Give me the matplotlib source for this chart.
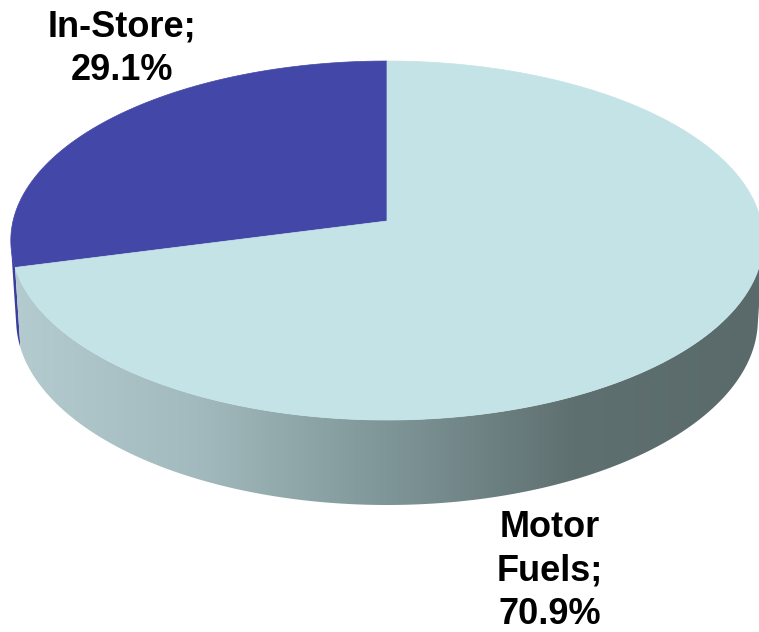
import numpy as np
import matplotlib
matplotlib.use("Agg")
import matplotlib.pyplot as plt
from matplotlib.patches import Polygon
from matplotlib.colors import LinearSegmentedColormap

# ---- data ----
categories = ["In-Store", "Motor Fuels"]
values = [29.1, 70.9]
top_colors = ["#4347a8", "#c4e3e6"]

# ---- figure in pixel coordinates ----
W, H = 759, 632
fig = plt.figure(figsize=(W / 100, H / 100), dpi=100)
ax = fig.add_axes([0, 0, 1, 1])
ax.set_xlim(0, W)
ax.set_ylim(H, 0)
ax.axis("off")

# perspective camera
cx, cy = 387.0, 221.0
sphi, cphi = 0.4743, 0.8804
Dist = 8.097
focal = 3028.0
depth_h = 0.2423


def proj(t_deg, z=0.0, r=1.0):
    t = np.radians(t_deg)
    X = r * np.cos(t)
    Y = r * np.sin(t)
    d = Dist + Y * cphi - z * sphi
    x = focal * X / d
    yu = focal * (Y * sphi + z * cphi) / d
    return np.column_stack([cx + x, cy - yu])


total = sum(values)
start = 90.0
angles = []
for v in values:
    span = v / total * 360.0
    angles.append((start, start + span))
    start += span

# silhouette angles of the side wall
s_sil = -1.0 / (Dist * cphi)
t_left = 180.0 - np.degrees(np.arcsin(s_sil))
t_right = 360.0 + np.degrees(np.arcsin(s_sil))

# side gradient colormap (left light -> right dark)
side_cmap = LinearSegmentedColormap.from_list(
    "side", [(0.0, "#b4cccf"), (0.25, "#a2babd"), (0.5, "#7f9698"),
             (0.75, "#5f7070"), (1.0, "#5a6a6a")])

# draw side walls per slice
for i, (a0, a1) in enumerate(angles):
    segs = []
    for off in (0.0, 360.0, -360.0):
        s0 = max(a0 + off, t_left)
        s1 = min(a1 + off, t_right)
        if s1 > s0:
            segs.append((s0, s1))
    for s0, s1 in segs:
        tt = np.linspace(s0, s1, 300)
        top = proj(tt, 0.0)
        bot = proj(tt[::-1], -depth_h)
        poly = np.vstack([top, bot])
        if i == 0:
            ax.add_patch(Polygon(poly, closed=True, facecolor="#3b3e9b",
                                 edgecolor="none", zorder=1))
        else:
            patch = Polygon(poly, closed=True, facecolor="none",
                            edgecolor="none", zorder=1)
            ax.add_patch(patch)
            grad = np.linspace(0, 1, 512).reshape(1, -1)
            im = ax.imshow(grad, cmap=side_cmap, aspect="auto",
                           extent=[10, 762, 600, 150], zorder=1,
                           interpolation="bilinear")
            im.set_clip_path(patch)

# draw top faces
for i, (a0, a1) in enumerate(angles):
    tt = np.linspace(a0, a1, 400)
    arc = proj(tt, 0.0)
    poly = np.vstack([[cx, cy], arc])
    ax.add_patch(Polygon(poly, closed=True, facecolor=top_colors[i],
                         edgecolor=top_colors[i], linewidth=0.5, zorder=2))

# labels
lab_font = dict(family=["Liberation Sans", "DejaVu Sans"], weight="bold",
                fontsize=26, color="black", ha="center", va="top",
                linespacing=1.32, zorder=5)
label_pos = [(122, 9), (550, 510)]
for cat, val, (lx, ly) in zip(categories, values, label_pos):
    txt = cat.replace(" ", "\n") + ";\n" + f"{val:.1f}%"
    ax.text(lx, ly, txt, **lab_font)

fig.savefig("out.png", dpi=100)
